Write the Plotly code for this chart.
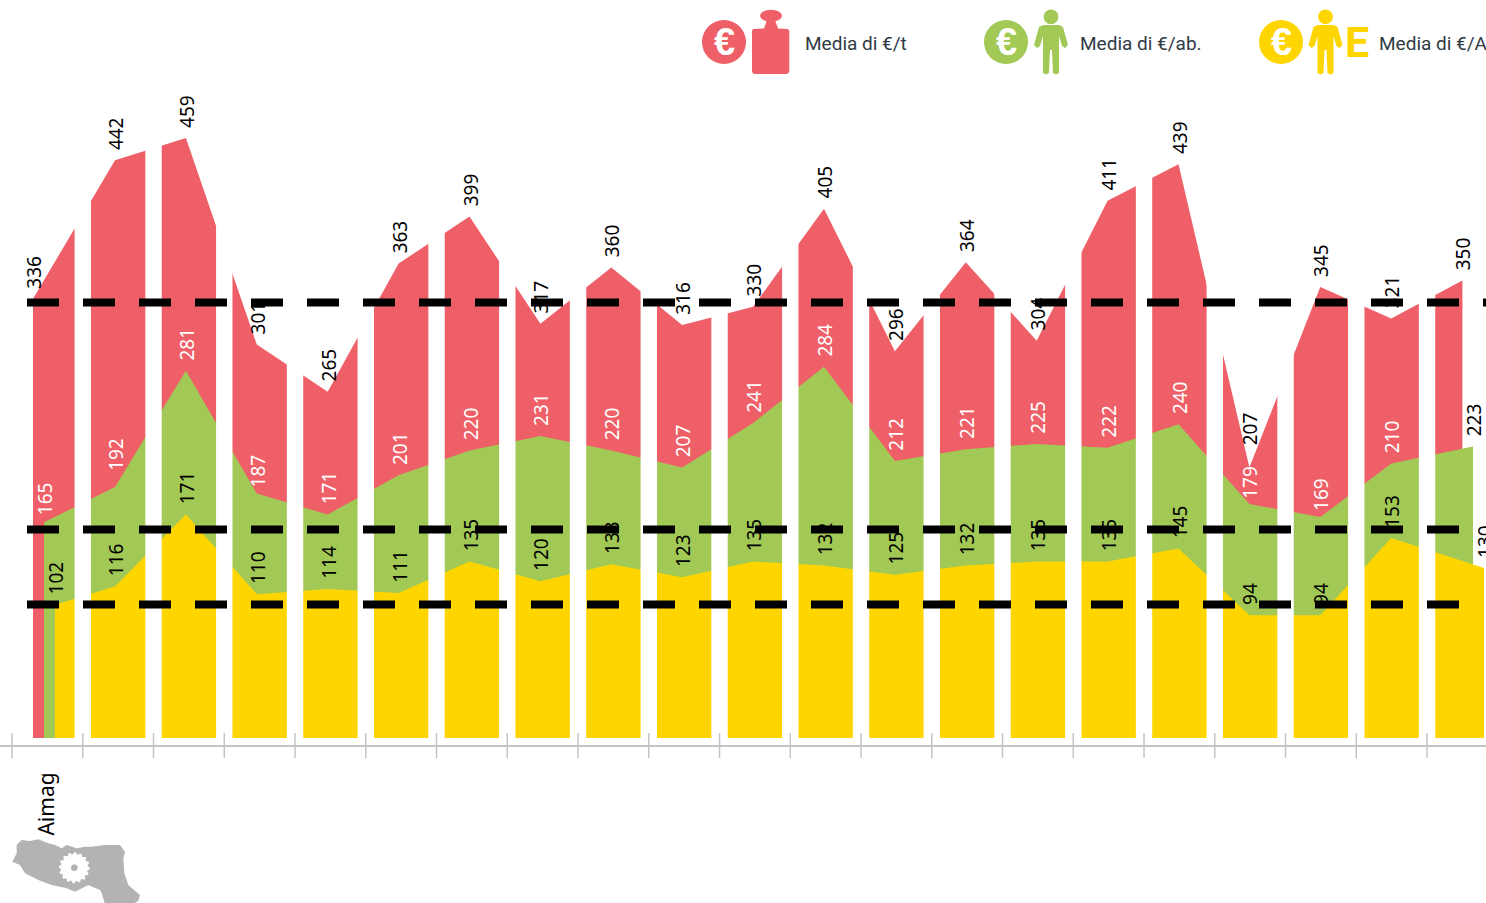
import math
import plotly.graph_objects as go

W, H = 1486, 903

# ---------- data ----------
categories = ["Aimag"] + [""] * 20
media_t = [336, 442, 459, 301, 265, 363, 399, 317, 360, 316, 330, 405, 296, 364, 304, 411, 439, 207, 345, 321, 350]
media_ab = [165, 192, 281, 187, 171, 201, 220, 231, 220, 207, 241, 284, 212, 221, 225, 222, 240, 179, 169, 210, 223]
media_ae = [102, 116, 171, 110, 114, 111, 135, 120, 133, 123, 135, 132, 125, 132, 135, 135, 145, 94, 94, 153, 130]
reference_lines = [333.2, 159.6, 102.2]

RED, GREEN, YELLOW = "#EF5F67", "#A2C855", "#FFD500"
GREY = "#C4C4C4"

# category index <-> pixel (axis scale)
PX0, PXSTEP = 47.4, 70.75
def xc(p):
    return (p - PX0) / PXSTEP

n = len(categories)
point_px = [44.1 + 70.9 * k for k in range(n)]
mid = [xc(p) for p in point_px[1:-1]]
x_t = [xc(33)] + mid + [xc(1462.4)]
x_ab = [xc(44)] + mid + [xc(1473)]
x_ae = [xc(55)] + mid + [xc(1484)]

# value axis
PXUNIT = 1.307
BASE_PX, AXIS_PX = 738, 745
y_range = [-(AXIS_PX - BASE_PX) / PXUNIT, BASE_PX / PXUNIT]
x_range = [xc(0), xc(W)]
LABEL_SHIFT = 5.5   # value labels sit this far above their point
LABEL_XSHIFT = 1 / PXSTEP

# label nudges in pixels, where the reference moved a label off its usual spot
nudge_t = {17: 12}
nudge_ab = {0: -3, 1: 6, 3: -4, 17: -5, 18: -4}

fig = go.Figure()

# areas
for name, xs, ys, col in [("Media di €/t", x_t, media_t, RED),
                          ("Media di €/ab.", x_ab, media_ab, GREEN),
                          ("Media di €/AE", x_ae, media_ae, YELLOW)]:
    fig.add_trace(go.Scatter(x=xs, y=ys, name=name, mode="lines", fill="tozeroy",
                             fillcolor=col, line=dict(width=0, color=col),
                             showlegend=False, hoverinfo="skip"))

# white gaps at the category boundaries
boundaries = [k - 0.5 for k in range(n)]
gx, gy = [], []
hw = 8.2 / PXSTEP
for b in boundaries[1:]:
    gx += [b - hw, b - hw, b + hw, b + hw, None]
    gy += [-0.4, 520, 520, -0.4, None]
fig.add_trace(go.Scatter(x=gx, y=gy, mode="lines", fill="toself", fillcolor="white",
                         line=dict(width=0, color="white"), showlegend=False, hoverinfo="skip"))

# value labels (invisible bars carry rotated outside text)
LABEL_FONT = "Noto Sans"
ab_colors = ["white"] * (n - 1) + ["black"]
for xs, ys, col, nudge in [(x_t, media_t, "black", nudge_t),
                           (x_ab, media_ab, ab_colors, nudge_ab),
                           (x_ae, media_ae, "black", {})]:
    fig.add_trace(go.Bar(x=xs, y=ys, base=[nudge.get(i, 0) / PXUNIT for i in range(n)],
                         width=0.2, xaxis="x2", yaxis="y2",
                         marker=dict(color="rgba(0,0,0,0)", line=dict(width=0)),
                         text=[str(v) for v in ys], textposition="outside", textangle=-90,
                         textfont=dict(family=LABEL_FONT, size=19, color=col),
                         constraintext="none", cliponaxis=False,
                         showlegend=False, hoverinfo="skip"))

# dashed reference lines
line_ends = [1500, 1460, 1460]
for v, end in zip(reference_lines, line_ends):
    fig.add_trace(go.Scatter(x=[xc(27), xc(end)], y=[v, v], mode="lines", xaxis="x3", yaxis="y3",
                             line=dict(color="black", width=8, dash="32px,24px"),
                             showlegend=False, hoverinfo="skip"))

def px(x):
    return x / W
def py(y):
    return 1 - y / H
def path(points):
    return "M " + " L ".join(f"{px(a):.5f},{py(b):.5f}" for a, b in points) + " Z"

shapes = []
# axis ticks crossing the axis line
for b in boundaries + [n - 0.5]:
    bpx = PX0 + b * PXSTEP
    if bpx <= W:
        shapes.append(dict(type="line", xref="x", yref="paper", x0=b, x1=b, y0=py(758), y1=py(733),
                           line=dict(color=GREY, width=1.5), layer="above"))

def ellipse(cx, cy, rx, ry, col):
    shapes.append(dict(type="circle", xref="paper", yref="paper", x0=px(cx - rx), x1=px(cx + rx),
                       y0=py(cy + ry), y1=py(cy - ry), fillcolor=col, line=dict(width=0), layer="above"))
def poly(points, col):
    shapes.append(dict(type="path", xref="paper", yref="paper", path=path(points), fillcolor=col,
                       line=dict(width=0), layer="above"))

PERSON = [(-8, 25), (8, 25), (12, 27), (17, 45), (14, 48), (11, 46), (8, 36), (8, 73), (5, 74.5), (2, 73),
          (1, 50), (-1, 50), (-2, 73), (-5, 74.5), (-8, 73), (-8, 36), (-11, 46), (-14, 48), (-17, 45), (-12, 27)]
def person(cx, col):
    ellipse(cx, 16.8, 7.4, 7.4, col)
    poly([(cx + a, b) for a, b in PERSON], col)

# legend icons
ellipse(724, 42, 22, 22, RED)
ellipse(1006, 42, 22, 22, GREEN)
ellipse(1281, 42, 22, 22, YELLOW)
ellipse(771, 15.7, 11, 6, RED)
poly([(752, 31), (753, 29), (764, 28.5), (767, 20), (775, 20), (778, 28.5), (788, 29), (789.3, 31),
      (789.3, 72), (787, 74), (754, 74), (752, 72)], RED)
person(1051, GREEN)
person(1325.5, YELLOW)

# region map
MAP_ZOOM = [(35, 45), (50, 30), (75, 33), (100, 28), (130, 40), (150, 45), (170, 55), (185, 45), (215, 55),
            (240, 50), (260, 50), (300, 45), (345, 45), (360, 65), (355, 85), (358, 130), (370, 165), (405, 195),
            (400, 212), (385, 222), (300, 222), (290, 190), (285, 180), (250, 165), (210, 185), (185, 175),
            (140, 165), (100, 150), (60, 130), (45, 105), (22, 95), (35, 70)]
MAP_COL = "#B3B3B3"
poly([(5 + a / 3, 830 + b / 3) for a, b in MAP_ZOOM], MAP_COL)
gear = []
for i in range(64):
    r = 15.5 if i % 4 in (0, 1) else 13.5
    t = 2 * math.pi * i / 64
    gear.append((74.3 + r * math.cos(t), 867.7 + r * math.sin(t)))
poly(gear, "white")
ellipse(74.3, 867.7, 3.3, 3.3, MAP_COL)

annotations = []
for x0, t in [(805, "Media di €/t"), (1080, "Media di €/ab."), (1379, "Media di €/AE")]:
    annotations.append(dict(xref="paper", yref="paper", x=px(x0), y=py(43), xanchor="left", yanchor="middle",
                            text=t, showarrow=False, xshift=-2,
                            font=dict(family="Roboto", size=19, color="#303A45")))
for cx in (724, 1006, 1281):
    annotations.append(dict(xref="paper", yref="paper", x=px(cx), y=py(42), xanchor="center", yanchor="middle",
                            text="<b>€</b>", showarrow=False, font=dict(family="Liberation Sans", size=38, color="white")))
annotations.append(dict(xref="paper", yref="paper", x=px(1357), y=py(42), xanchor="center", yanchor="middle",
                        text="<b>E</b>", showarrow=False, font=dict(family="Roboto", size=43, color=YELLOW)))

hidden = dict(visible=False, fixedrange=True)
ydom = [(H - AXIS_PX) / H, 1]
fig.update_layout(
    width=W, height=H, margin=dict(l=0, r=0, t=0, b=0), paper_bgcolor="white", plot_bgcolor="rgba(0,0,0,0)",
    barmode="overlay", showlegend=False, shapes=shapes, annotations=annotations,
    xaxis=dict(range=x_range, domain=[0, 1], showgrid=False, zeroline=False, showline=True, linecolor=GREY,
               linewidth=2, ticks="", tickmode="array", tickvals=list(range(n)), ticktext=categories,
               tickangle=-90, ticklabelstandoff=17,
               tickfont=dict(family="Noto Sans", size=21, color="black")),
    yaxis=dict(range=y_range, domain=ydom, visible=False, fixedrange=True),
    xaxis2=dict(range=[x_range[0] - LABEL_XSHIFT, x_range[1] - LABEL_XSHIFT], overlaying="x", anchor="y2", **hidden),
    yaxis2=dict(range=[y_range[0] - LABEL_SHIFT, y_range[1] - LABEL_SHIFT], domain=ydom, overlaying="y", anchor="x2", **hidden),
    xaxis3=dict(range=x_range, overlaying="x", anchor="y3", **hidden),
    yaxis3=dict(range=y_range, domain=ydom, overlaying="y", anchor="x3", **hidden),
)

fig.write_html("out.html", config={"displayModeBar": False},
               post_script="document.body.style.margin='0';document.body.style.overflow='hidden';")
